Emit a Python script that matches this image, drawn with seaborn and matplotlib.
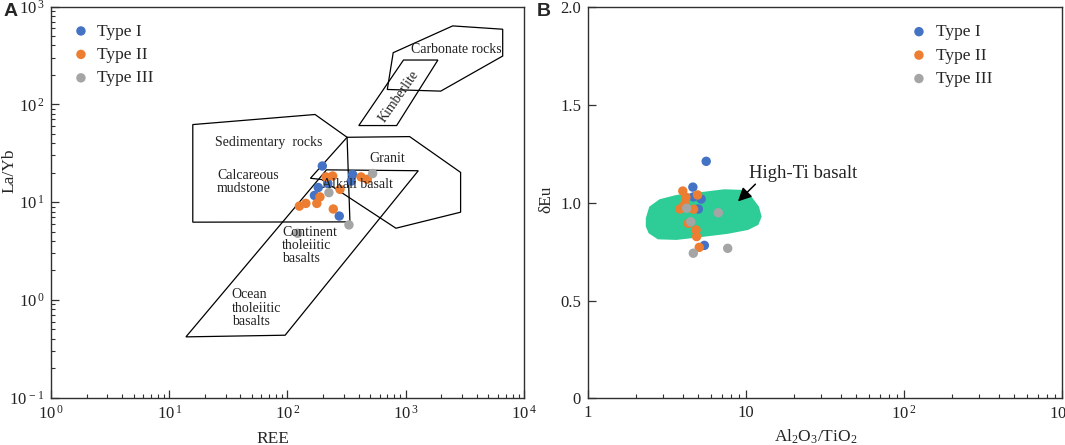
import numpy as np
import pandas as pd
import matplotlib
matplotlib.use("Agg")
import matplotlib.pyplot as plt
import seaborn as sns
from matplotlib.patches import Polygon
from matplotlib.ticker import LogLocator, FixedLocator, FuncFormatter, NullFormatter

# ---- data: panel A (REE vs La/Yb) ----
typeI_ree = [197, 356, 219, 182, 169, 274, 346]
typeI_layb = [23.4, 19.1, 15.5, 14.1, 11.7, 7.2, 16.4]
typeII_ree = [212, 241, 419, 473, 278, 188, 177, 143, 126, 244]
typeII_layb = [18.1, 18.5, 18.1, 17.1, 13.5, 11.3, 9.7, 9.7, 9.1, 8.5]
typeIII_ree = [525, 224, 331, 122]
typeIII_layb = [19.6, 12.5, 5.85, 4.8]

# ---- data: panel B (Al2O3/TiO2 vs dEu) ----
typeI_alti = [5.6, 4.61, 4.65, 5.2, 4.99, 5.45]
typeI_eu = [1.212, 1.080, 1.030, 1.019, 0.968, 0.782]
typeII_alti = [3.98, 4.17, 4.94, 4.10, 3.82, 4.66, 4.31, 4.83, 4.87, 5.06]
typeII_eu = [1.060, 1.028, 1.040, 0.994, 0.968, 0.967, 0.895, 0.861, 0.827, 0.772]
typeIII_alti = [4.21, 4.47, 6.68, 7.66, 4.64]
typeIII_eu = [0.972, 0.903, 0.949, 0.767, 0.742]

types = ["Type I", "Type II", "Type III"]
colors = ["#4472C4", "#ED7D31", "#A5A5A5"]

# field outlines for panel A (log10 REE, log10 La/Yb)
carbonate = [(2.894, 2.528), (3.397, 2.802), (3.820, 2.768), (3.820, 2.494), (3.296, 2.135), (2.844, 2.152)]
kimberlite = [(2.981, 2.453), (3.272, 2.453), (2.923, 1.783), (2.603, 1.783)]
sedimentary = [(1.199, 1.793), (2.233, 1.896), (2.504, 1.663), (2.528, 0.798), (1.199, 0.795)]
granite = [(2.504, 1.663), (3.033, 1.670), (3.464, 1.304), (3.464, 0.897), (2.917, 0.733),
           (2.289, 1.231), (2.194, 1.244)]
basalt = [(2.330, 1.330), (3.106, 1.321), (1.980, -0.361), (1.141, -0.378)]

# high-Ti basalt field for panel B (log10 Al2O3/TiO2, dEu)
high_ti = [(0.366, 0.921), (0.388, 0.980), (0.453, 1.018), (0.560, 1.040), (0.711, 1.054),
           (0.862, 1.069), (0.970, 1.066), (1.034, 1.032), (1.082, 0.980), (1.099, 0.929),
           (1.078, 0.887), (1.013, 0.861), (0.884, 0.841), (0.711, 0.824), (0.560, 0.810),
           (0.442, 0.813), (0.384, 0.844), (0.366, 0.878)]

df_a = pd.DataFrame({
    "x": typeI_ree + typeII_ree + typeIII_ree,
    "y": typeI_layb + typeII_layb + typeIII_layb,
    "type": ["Type I"] * len(typeI_ree) + ["Type II"] * len(typeII_ree) + ["Type III"] * len(typeIII_ree),
})
df_b = pd.DataFrame({
    "x": typeI_alti + typeII_alti + typeIII_alti,
    "y": typeI_eu + typeII_eu + typeIII_eu,
    "type": ["Type I"] * len(typeI_alti) + ["Type II"] * len(typeII_alti) + ["Type III"] * len(typeIII_alti),
})

sns.set_style("white")
plt.rcParams['font.family'] = ['Liberation Serif', 'DejaVu Serif']
plt.rcParams['mathtext.fontset'] = 'custom'
plt.rcParams['mathtext.rm'] = 'Liberation Serif'
plt.rcParams['mathtext.it'] = 'Liberation Serif:italic'
plt.rcParams['axes.unicode_minus'] = False

fig = plt.figure(figsize=(10.65, 4.45), dpi=100)
ax1 = fig.add_axes([0.0479, 0.1063, 0.4441, 0.879])
ax2 = fig.add_axes([0.5521, 0.1050, 0.4451, 0.8787])

spine_col = "#303030"
for ax in (ax1, ax2):
    for s in ax.spines.values():
        s.set_color(spine_col)
        s.set_linewidth(1.0)
        s.set_visible(True)


def pow_fmt(v, pos):
    e = int(round(np.log10(v)))
    return r"10$^{\,%d}$" % e


msize = 46

# ---- panel A ----
for t, c in zip(types, colors):
    sub = df_a[df_a["type"] == t]
    sns.scatterplot(data=sub, x="x", y="y", color=c, s=msize, edgecolor="none", ax=ax1, label=t, zorder=3)

for poly in (carbonate, kimberlite, sedimentary, granite, basalt):
    pts = 10 ** np.array(poly)
    ax1.add_patch(Polygon(pts, closed=True, fill=False, edgecolor="black", lw=0.9, zorder=2))

ax1.set_xscale("log")
ax1.set_yscale("log")
ax1.set_xlim(1, 1e4)
ax1.set_ylim(0.1, 1e3)
ax1.xaxis.set_major_locator(LogLocator(base=10, numticks=10))
ax1.yaxis.set_major_locator(LogLocator(base=10, numticks=10))
ax1.xaxis.set_minor_locator(LogLocator(base=10, subs=np.arange(2, 10), numticks=20))
ax1.yaxis.set_minor_locator(LogLocator(base=10, subs=np.arange(2, 10), numticks=20))
ax1.xaxis.set_major_formatter(FuncFormatter(pow_fmt))
ax1.yaxis.set_major_formatter(FuncFormatter(pow_fmt))
ax1.xaxis.set_minor_formatter(NullFormatter())
ax1.yaxis.set_minor_formatter(NullFormatter())
ax1.set_xlabel("REE", fontsize=12.5)
ax1.set_ylabel("La/Yb", fontsize=12.5)
ax1.xaxis.set_label_coords(0.47, -0.085)
ax1.yaxis.set_label_coords(-0.07, 0.58)

txt = dict(fontsize=10, color="#222222", zorder=4, linespacing=1.02)
ax1.text(10 ** 3.042, 10 ** 2.556, "Carbonate rocks", ha="left", va="center", **txt)
ax1.text(10 ** 2.946, 10 ** 2.084, "Kimberlite", ha="center", va="center", rotation=55, **txt)
ax1.text(10 ** 1.389, 10 ** 1.612, "Sedimentary  rocks", ha="left", va="center", **txt)
ax1.text(10 ** 2.693, 10 ** 1.448, "Granit", ha="left", va="center", **txt)
ax1.text(10 ** 1.403, 10 ** 1.202, "Calcareous\nmudstone", ha="left", va="center", **txt)
ax1.text(10 ** 2.291, 10 ** 1.185, "Alkali basalt", ha="left", va="center", **txt)
ax1.text(10 ** 1.956, 10 ** 0.559, "Continent\ntholeiitic\nbasalts", ha="left", va="center", **txt)
ax1.text(10 ** 1.528, 10 ** -0.084, "Ocean\ntholeiitic\nbasalts", ha="left", va="center", **txt)

# ---- panel B ----
poly_b = np.array(high_ti)
poly_b[:, 0] = 10 ** poly_b[:, 0]
ax2.add_patch(Polygon(poly_b, closed=True, facecolor="#2ECC96", edgecolor="none", zorder=1, joinstyle="round"))

for t, c in zip(types, colors):
    sub = df_b[df_b["type"] == t]
    sns.scatterplot(data=sub, x="x", y="y", color=c, s=msize, edgecolor="none", ax=ax2, label=t, zorder=3)

ax2.set_xscale("log")
ax2.set_xlim(1, 1e3)
ax2.set_ylim(0, 2.0)
ax2.xaxis.set_major_locator(LogLocator(base=10, numticks=10))
ax2.xaxis.set_minor_locator(LogLocator(base=10, subs=np.arange(2, 10), numticks=20))
ax2.xaxis.set_minor_formatter(NullFormatter())


def b_fmt(v, pos):
    e = int(round(np.log10(v)))
    if e == 0:
        return "1"
    if e == 1:
        return "10"
    return r"10$^{\,%d}$" % e


ax2.xaxis.set_major_formatter(FuncFormatter(b_fmt))
ax2.yaxis.set_major_locator(FixedLocator([0, 0.5, 1.0, 1.5, 2.0]))
ax2.yaxis.set_major_formatter(FuncFormatter(lambda v, p: "0" if v == 0 else "%.1f" % v))
ax2.set_xlabel(r"Al$_2$O$_3$/TiO$_2$", fontsize=12.5)
ax2.set_ylabel("δEu", fontsize=12.5)
ax2.xaxis.set_label_coords(0.48, -0.075)
ax2.yaxis.set_label_coords(-0.07, 0.51)

ax2.annotate("", xy=(8.64, 0.997), xytext=(11.8, 1.105),
             arrowprops=dict(arrowstyle="-|>", color="black", lw=1.1, mutation_scale=20), zorder=4)
ax2.text(10.46, 1.151, "High-Ti basalt", fontsize=13.5, ha="left", va="center", color="#222222", zorder=4)

for ax in (ax1, ax2):
    ax.tick_params(axis="both", which="major", direction="in", length=5.5, width=0.9,
                   color=spine_col, labelsize=12, pad=5, labelcolor="#222222")
    ax.tick_params(axis="both", which="minor", direction="in", length=2.6, width=0.8, color=spine_col)
    ax.tick_params(axis="y", which="both", left=True, right=False)
    ax.tick_params(axis="x", which="both", bottom=True, top=False)

ax1.legend(loc="upper left", bbox_to_anchor=(0.0486, 0.957), frameon=False, fontsize=12.5,
           borderpad=0, borderaxespad=0, handlelength=0.8, handletextpad=0.5, labelspacing=0.42,
           markerscale=1.0)
ax2.legend(loc="upper left", bbox_to_anchor=(0.6835, 0.957), frameon=False, fontsize=12.5,
           borderpad=0, borderaxespad=0, handlelength=0.8, handletextpad=0.6, labelspacing=0.42,
           markerscale=1.0)

fig.text(0.003, 0.993, "A", fontsize=14, fontweight="bold", family="Liberation Sans", va="top", ha="left")
fig.text(0.504, 0.993, "B", fontsize=14, fontweight="bold", family="Liberation Sans", va="top", ha="left")

fig.savefig("out.png", dpi=100)
